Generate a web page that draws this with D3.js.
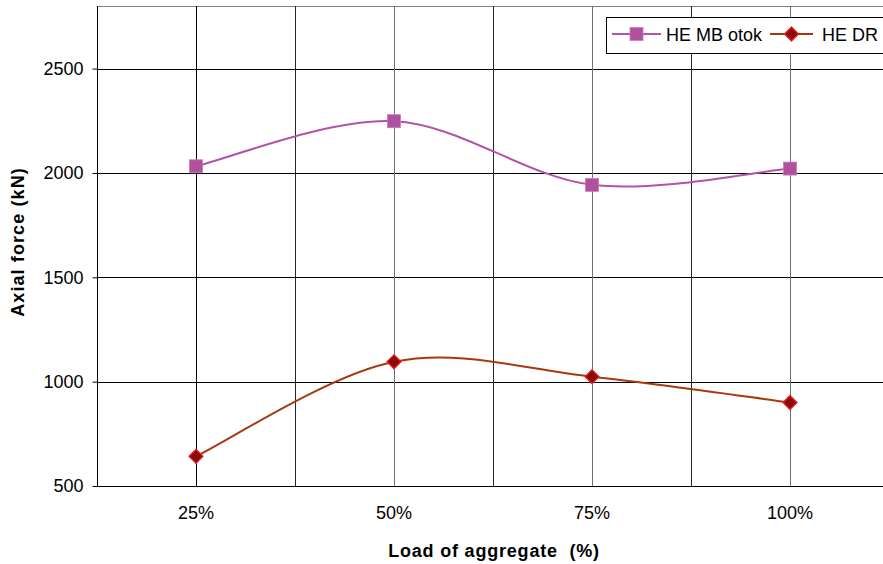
<!DOCTYPE html>
<html>
<head>
<meta charset="utf-8">
<script src="https://cdn.jsdelivr.net/npm/d3@7"></script>
<style>
  html, body { margin: 0; padding: 0; background: #fff; }
  svg { display: block; font-family: "Liberation Sans", Arial, sans-serif; }
</style>
</head>
<body>
<svg id="chart" width="883" height="564"></svg>
<script>
// Load levels and measured axial forces
const categories = ["25%", "50%", "75%", "100%"];
const heMbOtok = [2032, 2248, 1943, 2021];
const heDr = [642, 1095, 1024, 900];
const yTicks = [500, 1000, 1500, 2000, 2500];

const series = [
  { name: "HE MB otok", values: heMbOtok, color: "#b452a6", marker: "square" },
  { name: "HE DR", values: heDr, color: "#a8380f", marker: "diamond" }
];

const svg = d3.select("#chart");
const plot = { left: 97, right: 889, top: 6, bottom: 486 };

const x = d3.scaleBand().domain(categories).range([plot.left, plot.right]).padding(0);
const y = d3.scaleLinear().domain([500, 2800]).range([plot.bottom, plot.top]);
const cx = c => x(c) + x.bandwidth() / 2;

// top border
svg.append("line")
  .attr("x1", plot.left).attr("x2", plot.right)
  .attr("y1", plot.top + 0.5).attr("y2", plot.top + 0.5)
  .attr("stroke", "#808080").attr("stroke-width", 1);

// horizontal gridlines
svg.append("g").selectAll("line").data(yTicks.slice(1)).join("line")
  .attr("x1", plot.left).attr("x2", plot.right)
  .attr("y1", d => Math.round(y(d)) + 0.5).attr("y2", d => Math.round(y(d)) + 0.5)
  .attr("stroke", "#000").attr("stroke-width", 1);

// vertical gridlines: category boundaries and centres
const centres = categories.map(cx);
const bounds = categories.slice(1).map(c => x(c));
svg.append("g").selectAll("line").data(bounds).join("line")
  .attr("x1", d => Math.round(d) + 0.5).attr("x2", d => Math.round(d) + 0.5)
  .attr("y1", plot.top).attr("y2", plot.bottom)
  .attr("stroke", "#262626").attr("stroke-width", 1);
svg.append("g").selectAll("line").data(centres).join("line")
  .attr("x1", d => Math.round(d) + 0.5).attr("x2", d => Math.round(d) + 0.5)
  .attr("y1", plot.top).attr("y2", plot.bottom)
  .attr("stroke", (d, i) => i === 0 ? "#000" : "#707070").attr("stroke-width", 1);

// y axis
const yAxis = svg.append("g")
  .attr("transform", `translate(${plot.left + 0.5},0)`)
  .call(d3.axisLeft(y).tickValues(yTicks).tickSize(5).tickPadding(9).tickFormat(d3.format("d")));
yAxis.select(".domain").attr("stroke", "#000").attr("d", `M0,${plot.bottom}V${plot.top}`);
yAxis.selectAll(".tick line").attr("stroke", "#000");
yAxis.selectAll(".tick text").attr("font-size", 18).attr("fill", "#000")
  .attr("font-family", "Liberation Sans, Arial, sans-serif");

// x axis line
svg.append("line")
  .attr("x1", plot.left).attr("x2", plot.right)
  .attr("y1", plot.bottom + 0.5).attr("y2", plot.bottom + 0.5)
  .attr("stroke", "#000").attr("stroke-width", 1);

// x tick labels
svg.append("g").selectAll("text").data(categories).join("text")
  .attr("x", d => cx(d)).attr("y", 519)
  .attr("text-anchor", "middle").attr("font-size", 18).attr("fill", "#000")
  .text(d => d);

// axis titles
svg.append("text")
  .attr("x", 494).attr("y", 557)
  .attr("text-anchor", "middle").attr("font-size", 18).attr("font-weight", "bold")
  .attr("letter-spacing", 0.8)
  .attr("xml:space", "preserve")
  .text("Load of aggregate  (%)");
svg.append("text")
  .attr("transform", "translate(24,242) rotate(-90)")
  .attr("text-anchor", "middle").attr("font-size", 18).attr("font-weight", "bold")
  .attr("letter-spacing", 1.1)
  .text("Axial force (kN)");

// smoothed path: cubic Bezier with tangents (P[i+1] - P[i-1]) / 6,
// end tangents taken along the neighbouring chord
function smoothPath(pts) {
  const p = d3.path();
  p.moveTo(pts[0][0], pts[0][1]);
  const n = pts.length;
  for (let i = 0; i < n - 1; i++) {
    const p0 = pts[Math.max(i - 1, 0)], p1 = pts[i], p2 = pts[i + 1], p3 = pts[Math.min(i + 2, n - 1)];
    const c1 = [p1[0] + (p2[0] - p0[0]) / 6, p1[1] + (p2[1] - p0[1]) / 6];
    const c2 = [p2[0] - (p3[0] - p1[0]) / 6, p2[1] - (p3[1] - p1[1]) / 6];
    p.bezierCurveTo(c1[0], c1[1], c2[0], c2[1], p2[0], p2[1]);
  }
  return p.toString();
}

function drawMarker(g, type, px, py) {
  if (type === "square") {
    g.append("rect")
      .attr("x", px - 6.5).attr("y", py - 6.5).attr("width", 13).attr("height", 13)
      .attr("fill", "#b0509f").attr("stroke", "#c77dbb").attr("stroke-width", 0.8);
  } else {
    const s = 7;
    g.append("path")
      .attr("d", `M${px},${py - s}L${px + s},${py}L${px},${py + s}L${px - s},${py}Z`)
      .attr("fill", "#8b0a0a").attr("stroke", "#e8221e").attr("stroke-width", 1.3);
  }
}

series.forEach(s => {
  const pts = s.values.map((v, i) => [cx(categories[i]), y(v)]);
  svg.append("path")
    .attr("d", smoothPath(pts))
    .attr("fill", "none").attr("stroke", s.color).attr("stroke-width", 2);
  const g = svg.append("g");
  pts.forEach(pt => drawMarker(g, s.marker, pt[0], pt[1]));
});

// legend
const lg = svg.append("g");
lg.append("rect")
  .attr("x", 606.5).attr("y", 17.5).attr("width", 290).attr("height", 36)
  .attr("fill", "#fff").attr("stroke", "#000").attr("stroke-width", 1);
const legendItems = [
  { s: series[0], x0: 612, x1: 661, tx: 666 },
  { s: series[1], x0: 770, x1: 813, tx: 822 }
];
legendItems.forEach(it => {
  lg.append("line").attr("x1", it.x0).attr("x2", it.x1).attr("y1", 34).attr("y2", 34)
    .attr("stroke", it.s.color).attr("stroke-width", 2);
  drawMarker(lg, it.s.marker, (it.x0 + it.x1) / 2, 34);
  lg.append("text").attr("x", it.tx).attr("y", 40.5).attr("font-size", 18).attr("fill", "#000")
    .text(it.s.name);
});
</script>
</body>
</html>
